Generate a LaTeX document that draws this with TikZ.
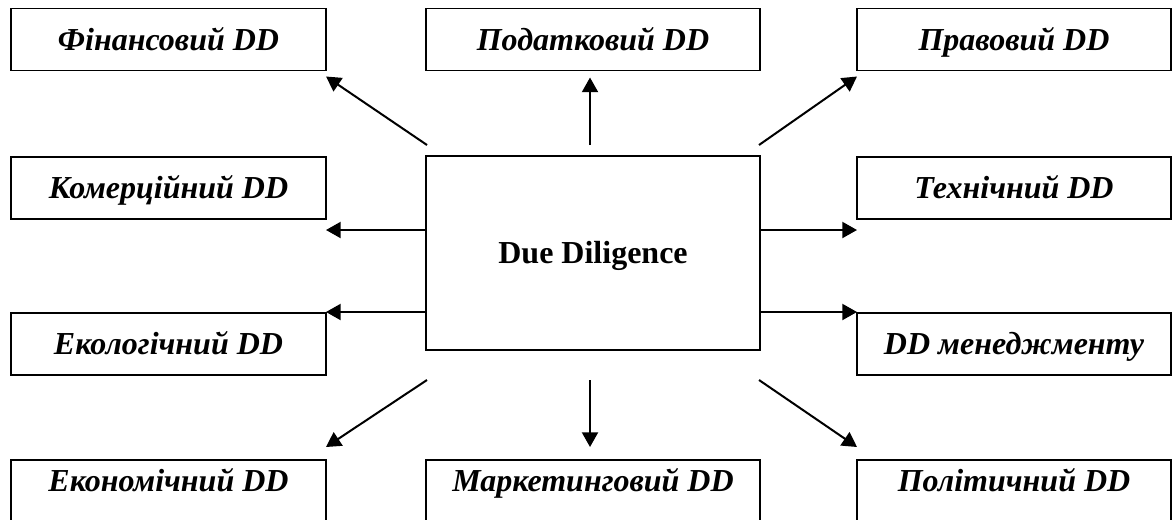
\documentclass[tikz,border=0pt]{standalone}
\usepackage{fontspec}
\setmainfont{Liberation Serif}
\usetikzlibrary{arrows.meta,calc}
\begin{document}
\begin{tikzpicture}[x=0.75pt,y=-0.75pt,
  box/.style={draw, line width=1.3pt, inner sep=0pt, outer sep=0pt, fill=white,
    font=\fontsize{24}{28}\selectfont\bfseries\itshape, text height=15.9pt, text depth=0pt},
  lbox/.style={box, minimum width=236.25pt, minimum height=46.5pt},
  mbox/.style={box, minimum width=250.5pt, minimum height=46.5pt},
  rbox/.style={box, minimum width=235.5pt, minimum height=46.5pt},
  bottombox/.style={anchor=north, minimum height=0pt, text height=23.4pt, text depth=40pt},
  conn/.style={line width=1.5pt, -{Triangle[length=11pt,width=12pt]}}]
\clip (0,0) rectangle (1175,519);
\fill[white] (0,0) rectangle (1175,519);

% central box
\node[box, minimum width=250.5pt, minimum height=145.5pt, font=\fontsize{24}{28}\selectfont\bfseries, text height=15.9pt] (dd) at (593,253) {Due Diligence};

% row 1
\node[lbox] (fin) at (168.5,39.5) {Фінансовий DD};
\node[mbox] (pod) at (593,39.5) {Податковий DD};
\node[rbox] (prav) at (1014,39.5) {Правовий DD};
% row 2
\node[lbox] (kom) at (168.5,188) {Комерційний DD};
\node[rbox] (tech) at (1014,188) {Технічний DD};
% row 3
\node[lbox] (eko) at (168.5,344) {Екологічний DD};
\node[rbox] (man) at (1014,344) {DD менеджменту};
% row 4
\node[lbox, bottombox] (ekon) at (168.5,460) {Економічний DD};
\node[mbox, bottombox] (mark) at (593,460) {Маркетинговий DD};
\node[rbox, bottombox] (pol) at (1014,460) {Політичний DD};

% arrow start points near the central box
\coordinate (s1) at ($(dd.north west)+(1,-11)$);
\coordinate (s2) at ($(dd.north)+(-3,-11)$);
\coordinate (s3) at ($(dd.north east)+(-1,-11)$);
\coordinate (s4) at ($(dd.north west)+(0,74)$);
\coordinate (s5) at ($(dd.north east)+(0,74)$);
\coordinate (s6) at ($(dd.north west)+(0,156)$);
\coordinate (s7) at ($(dd.north east)+(0,156)$);
\coordinate (s8) at ($(dd.south west)+(1,30)$);
\coordinate (s9) at ($(dd.south)+(-3,30)$);
\coordinate (s10) at ($(dd.south east)+(-1,30)$);

\draw[conn] (s1) -- ($(fin.south east)+(0,6)$);
\draw[conn] (s2) -- ($(pod.south)+(-3,7)$);
\draw[conn] (s3) -- ($(prav.south west)+(0,6)$);
\draw[conn] (s4) -- (s4 -| kom.east);
\draw[conn] (s5) -- (s5 -| tech.west);
\draw[conn] (s6) -- (s6 -| eko.east);
\draw[conn] (s7) -- (s7 -| man.west);
\draw[conn] (s8) -- ($(ekon.north east)+(0,-13)$);
\draw[conn] (s9) -- ($(mark.north)+(-3,-13)$);
\draw[conn] (s10) -- ($(pol.north west)+(0,-13)$);
\end{tikzpicture}
\end{document}
